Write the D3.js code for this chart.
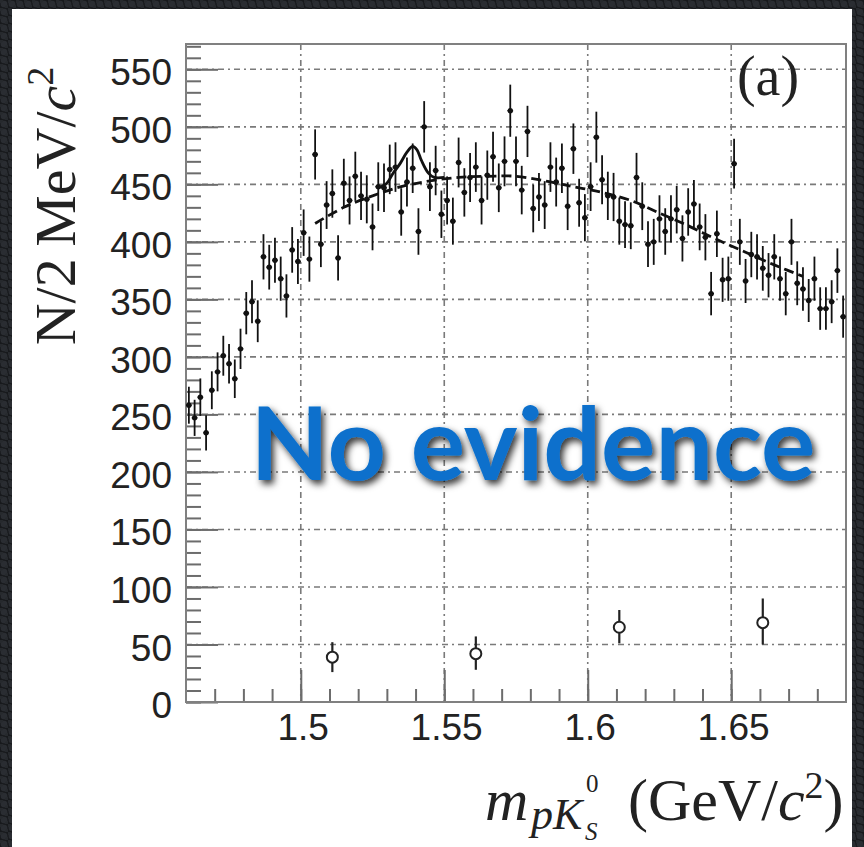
<!DOCTYPE html>
<html>
<head>
<meta charset="utf-8">
<title>pK0s mass</title>
<script src="https://cdn.jsdelivr.net/npm/d3@7"></script>
<style>
    body { margin: 0; background: #1e2125; }
    .tick text { font-family: "Liberation Sans", Arial, sans-serif; font-size: 37px; fill: #222; }
    .tick line { stroke: #6c6c6c; stroke-width: 2; }
    .serif { font-family: "Liberation Serif", "Times New Roman", serif; fill: #222; }
</style>
</head>
<body>
<div id="vis"></div>
<script>
    // histogram: 2 MeV bins starting at 1.46 GeV
    var binStart = 1.46, binWidth = 0.002;
    var counts = [258, 247, 265, 234, 271, 287, 301, 294, 281, 307,
        338, 348, 331, 387, 378, 384, 368, 353, 393, 383,
        408, 385, 476, 398, 432, 442, 386, 451, 436, 457,
        440, 437, 413, 448, 447, 463, 465, 426, 452, 464,
        409, 500, 448, 462, 424, 436, 418, 469, 443, 456,
        465, 436, 458, 474, 447, 470, 514, 470, 445, 496,
        429, 439, 432, 465, 452, 464, 431, 481, 434, 421,
        448, 491, 454, 440, 439, 418, 415, 414, 456, 431,
        398, 400, 420, 409, 420, 428, 403, 426, 433, 413,
        404, 355, 407, 367, 368, 468, 400, 366, 389, 387,
        377, 371, 387, 368, 355, 400, 364, 359, 349, 368,
        342, 342, 348, 375, 335];

    // background fit (dashed) and fit with signal (solid)
    var bgMass = [1.505, 1.515, 1.525, 1.535, 1.545, 1.555, 1.565, 1.575, 1.585, 1.595, 1.605, 1.615, 1.625, 1.635, 1.645, 1.655, 1.665, 1.675];
    var bgVal  = [416, 430, 440, 448, 453, 456, 457, 457, 453, 448, 443, 436, 425, 414, 402, 391, 380, 370];
    var sigMass = [1.527, 1.530, 1.532, 1.5346, 1.537, 1.539, 1.5405, 1.542, 1.5444, 1.5465, 1.550];
    var sigVal  = [447, 451, 459, 468, 478, 483, 480, 471, 460, 456, 456];

    // open circles (yields)
    var yieldMass = [1.511, 1.561, 1.611, 1.661];
    var yieldVal = [39, 42, 65, 69];
    var yieldLo = [13, 14, 14, 19];
    var yieldHi = [13, 15, 15, 21];

    var yMajor = d3.range(0, 551, 50);
    var yMinor = d3.range(0, 571, 10);
    var xMajor = [1.5, 1.55, 1.6, 1.65];
    var xMinor = d3.range(147, 169).map(function(d){ return d / 100; });

    var W = 864, H = 847;
    var plot = {left: 186, right: 846, top: 44, bottom: 702};

    var svg = d3.select("#vis").append("svg")
        .attr("width", W).attr("height", H);

    var defs = svg.append("defs");
    var pat = defs.append("pattern").attr("id", "tex")
        .attr("width", 8).attr("height", 8).attr("patternUnits", "userSpaceOnUse");
    pat.append("rect").attr("width", 8).attr("height", 8).attr("fill", "#17191c");
    pat.append("circle").attr("cx", 4).attr("cy", 4).attr("r", 3.3).attr("fill", "#2a2d32");
    pat.append("circle").attr("cx", 0).attr("cy", 0).attr("r", 3.3).attr("fill", "#26292d");
    pat.append("circle").attr("cx", 8).attr("cy", 8).attr("r", 3.3).attr("fill", "#26292d");

    var shadow = defs.append("filter").attr("id", "shadow")
        .attr("x", "-10%").attr("y", "-20%").attr("width", "130%").attr("height", "160%");
    shadow.append("feDropShadow").attr("dx", 3).attr("dy", 4).attr("stdDeviation", 3.5)
        .attr("flood-color", "#000").attr("flood-opacity", 0.8);

    svg.append("rect").attr("width", W).attr("height", H).attr("fill", "url(#tex)");
    svg.append("rect").attr("x", 12).attr("y", 9).attr("width", 840).attr("height", H - 9).attr("fill", "#fff");

    var x = d3.scaleLinear().domain([1.46, 1.69]).range([plot.left, plot.right]);
    var y = d3.scaleLinear().domain([0, 572]).range([plot.bottom, plot.top]);

    // grid
    var grid = svg.append("g").attr("class", "grid")
        .attr("stroke", "#7a7a7a").attr("stroke-width", 1.6).attr("stroke-dasharray", "6,4,2,4");
    grid.selectAll(".gy").data(yMajor.filter(function(d){ return d > 0; })).enter().append("line")
        .attr("x1", plot.left).attr("x2", plot.right)
        .attr("y1", function(d){ return y(d); }).attr("y2", function(d){ return y(d); });
    grid.selectAll(".gx").data(xMajor).enter().append("line")
        .attr("y1", plot.top).attr("y2", plot.bottom)
        .attr("x1", function(d){ return x(d); }).attr("x2", function(d){ return x(d); });

    // axes, ticks drawn inward like ROOT
    svg.append("g").attr("transform", "translate(" + plot.left + ",0)")
        .call(d3.axisLeft(y).tickValues(yMinor).tickSize(-15).tickFormat(""))
        .call(function(g){ g.select(".domain").remove(); });
    svg.append("g").attr("transform", "translate(" + plot.left + ",0)")
        .call(d3.axisLeft(y).tickValues(yMajor).tickSize(-32).tickPadding(14).tickFormat(d3.format("d")))
        .call(function(g){ g.select(".domain").remove(); g.selectAll("text").attr("dy", "0.42em"); });
    svg.append("g").attr("transform", "translate(0," + plot.bottom + ")")
        .call(d3.axisBottom(x).tickValues(xMinor).tickSize(-13).tickFormat(""))
        .call(function(g){ g.select(".domain").remove(); });
    svg.append("g").attr("transform", "translate(0," + plot.bottom + ")")
        .call(d3.axisBottom(x).tickValues(xMajor).tickSize(-32).tickPadding(12).tickFormat(function(d){ return String(d); }))
        .call(function(g){ g.select(".domain").remove(); g.selectAll("text").attr("dx", "0.05em"); });

    // frame
    svg.append("rect").attr("x", plot.left).attr("y", plot.top)
        .attr("width", plot.right - plot.left).attr("height", plot.bottom - plot.top)
        .attr("fill", "none").attr("stroke", "#808080").attr("stroke-width", 2);

    // data points
    var bins = counts.map(function(c, i){ return {m: binStart + binWidth * (i + 0.5), n: c, e: Math.sqrt(c)}; });
    var pts = svg.append("g").attr("class", "data").attr("stroke", "#111");
    pts.selectAll(".ev").data(bins).enter().append("line")
        .attr("stroke-width", 1.8)
        .attr("x1", function(d){ return x(d.m); }).attr("x2", function(d){ return x(d.m); })
        .attr("y1", function(d){ return y(d.n - d.e); }).attr("y2", function(d){ return y(d.n + d.e); });
    pts.selectAll(".eh").data(bins).enter().append("line")
        .attr("stroke-width", 1.3)
        .attr("x1", function(d){ return x(d.m - binWidth / 2); }).attr("x2", function(d){ return x(d.m + binWidth / 2); })
        .attr("y1", function(d){ return y(d.n); }).attr("y2", function(d){ return y(d.n); });
    pts.selectAll("circle").data(bins).enter().append("circle")
        .attr("cx", function(d){ return x(d.m); }).attr("cy", function(d){ return y(d.n); })
        .attr("r", 2.7).attr("fill", "#111").attr("stroke", "none");

    // fits
    var line = d3.line().curve(d3.curveCatmullRom)
        .x(function(d){ return x(d[0]); }).y(function(d){ return y(d[1]); });
    svg.append("path").datum(d3.zip(bgMass, bgVal)).attr("d", line)
        .attr("fill", "none").attr("stroke", "#111").attr("stroke-width", 2.8).attr("stroke-dasharray", "10,5");
    svg.append("path").datum(d3.zip(sigMass, sigVal)).attr("d", line)
        .attr("fill", "none").attr("stroke", "#111").attr("stroke-width", 2.8);

    // yields with open circles
    var ylds = yieldMass.map(function(m, i){ return {m: m, v: yieldVal[i], lo: yieldLo[i], hi: yieldHi[i]}; });
    var yg = svg.append("g").attr("class", "yields");
    yg.selectAll("line").data(ylds).enter().append("line")
        .attr("stroke", "#222").attr("stroke-width", 2.2)
        .attr("x1", function(d){ return x(d.m); }).attr("x2", function(d){ return x(d.m); })
        .attr("y1", function(d){ return y(d.v - d.lo); }).attr("y2", function(d){ return y(d.v + d.hi); });
    yg.selectAll("circle").data(ylds).enter().append("circle")
        .attr("cx", function(d){ return x(d.m); }).attr("cy", function(d){ return y(d.v); })
        .attr("r", 5.5).attr("fill", "#fff").attr("stroke", "#222").attr("stroke-width", 2);

    // axis titles
    svg.append("text").attr("class", "serif")
        .attr("transform", "translate(75,206) rotate(-90)")
        .attr("text-anchor", "middle").attr("font-size", 58)
        .call(function(t){
            t.append("tspan").text("N/2\u2009MeV/");
            t.append("tspan").attr("font-style", "italic").text("c");
            t.append("tspan").attr("font-size", 38).attr("dy", -22).text("2");
        });

    var xt = svg.append("text").attr("class", "serif")
        .attr("x", 485).attr("y", 820).attr("font-size", 60);
    xt.append("tspan").attr("font-style", "italic").text("m");
    xt.append("tspan").attr("x", 531).attr("dy", 9).attr("font-style", "italic").attr("font-size", 44).text("pK");
    xt.append("tspan").attr("x", 586).attr("dy", -37).attr("font-size", 25).text("0");
    xt.append("tspan").attr("x", 585).attr("dy", 48).attr("font-style", "italic").attr("font-size", 25).text("S");
    xt.append("tspan").attr("x", 628).attr("dy", -20).text("(GeV/");
    xt.append("tspan").attr("font-style", "italic").text("c");
    xt.append("tspan").attr("font-size", 38).attr("dy", -22).text("2");
    xt.append("tspan").attr("dy", 22).text(")");

    svg.append("text").attr("class", "serif")
        .attr("x", 768).attr("y", 95).attr("text-anchor", "middle").attr("font-size", 56)
        .text("(a)");

    // overlay text
    var note = svg.append("text")
        .attr("x", 533).attr("y", 480).attr("text-anchor", "middle")
        .attr("font-family", "Lato, 'Open Sans', sans-serif").attr("font-weight", 700)
        .attr("font-size", 100).attr("fill", "#0b70cc").attr("filter", "url(#shadow)")
        .text("No evidence");
    var w = note.node().getComputedTextLength();
    note.attr("font-size", 100 * 565 / w);
</script>
</body>
</html>
